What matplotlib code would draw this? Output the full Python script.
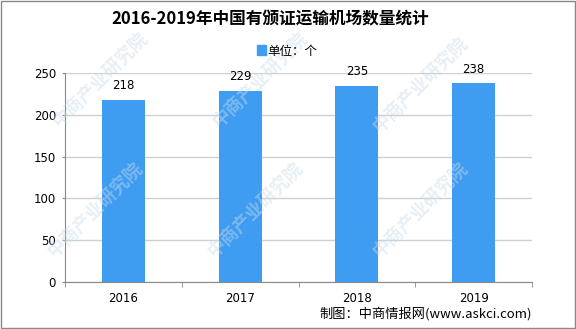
import numpy as np
import matplotlib.pyplot as plt
from matplotlib.patches import Rectangle

plt.rcParams['font.family'] = ['Noto Sans CJK SC', 'DejaVu Sans']

# data
years = ['2016', '2017', '2018', '2019']
airports = [218, 229, 235, 238]
yticks = [0, 50, 100, 150, 200, 250]

bar_color = '#3e9cf1'

fig = plt.figure(figsize=(5.76, 3.29), dpi=100)
ax = fig.add_axes([65/576, 1-282/329, (532-65)/576, (282-73)/329])

x = np.arange(len(years))
ax.bar(x, airports, width=0.37, color=bar_color, zorder=3)
for xi, v in zip(x, airports):
    ax.annotate(str(v), (xi, v), xytext=(0, 10), textcoords='offset points',
                ha='center', va='center', fontsize=8.5, family='DejaVu Sans')

ax.set_xlim(-0.5, len(years) - 0.5)
ax.set_ylim(0, 250)
ax.set_yticks(yticks)
ax.set_yticklabels([str(t) for t in yticks], fontsize=8.5, family='DejaVu Sans')
ax.set_xticks(x)
ax.set_xticklabels(years, fontsize=8.5, family='DejaVu Sans')
ax.set_xticks(np.arange(-0.5, len(years)), minor=True)
ax.tick_params(axis='x', which='major', length=0, pad=7)
ax.tick_params(axis='x', which='minor', length=3.5, color='#888888')
ax.tick_params(axis='y', length=2.5, color='#888888', pad=4)
ax.grid(axis='y', color='#d0d0d0', linewidth=1, zorder=0)
for s in ['top', 'right']:
    ax.spines[s].set_visible(False)
for s in ['left', 'bottom']:
    ax.spines[s].set_color('#888888')

# title, legend, source
fig.text(270/576, 1-19/329, '2016-2019年中国有颁证运输机场数量统计',
         ha='center', va='center', fontsize=12, fontweight='bold')
fig.patches.append(Rectangle((257/576, 1-55/329), 9/576, 10/329,
                             transform=fig.transFigure, color=bar_color))
fig.text(267/576, 1-51/329, '单位：个', ha='left', va='center', fontsize=9)
fig.text(532/576, 1-314/329, '制图：中商情报网(www.askci.com)',
         ha='right', va='center', fontsize=9.5)

# faint watermarks
for wx, wy in [(100, 80), (260, 80), (420, 85), (95, 210), (255, 210),
               (420, 210)]:
    fig.text(wx/576, 1-wy/329, '中商产业研究院', rotation=45, fontsize=13,
             color='#c9dcec', alpha=0.45, ha='center', va='center',
             fontweight='bold', zorder=0)

# border
fig.patches.append(Rectangle((0.001, 0.002), 0.997, 0.995, transform=fig.transFigure,
                             fill=False, edgecolor='#888888', linewidth=1))

plt.savefig('out.png', dpi=100)
